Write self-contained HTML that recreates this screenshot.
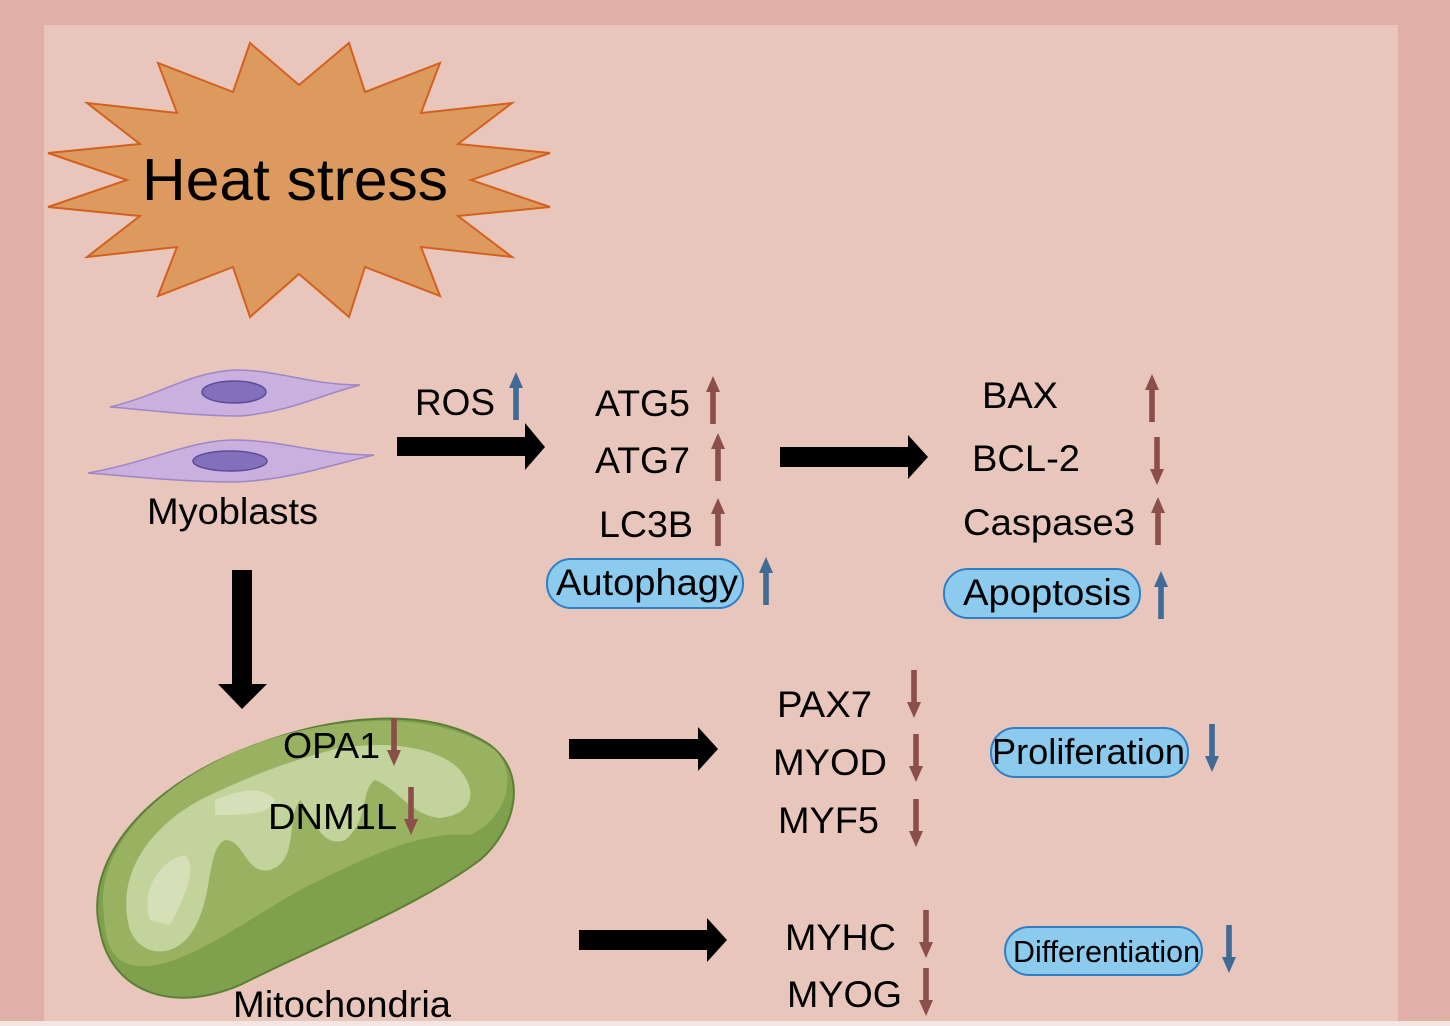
<!DOCTYPE html>
<html><head><meta charset="utf-8"><style>
html,body{margin:0;padding:0;background:#e0b0a6;}
svg{display:block;}
text{font-family:"Liberation Sans",Arial,sans-serif;fill:#000;}
</style></head><body>
<svg width="1450" height="1026" viewBox="0 0 1450 1026" xmlns="http://www.w3.org/2000/svg">
<defs>
<g id="up"><polygon points="-7,16 0,0 7,16"/><rect x="-2.8" y="14" width="5.6" height="34"/></g>
<g id="dn"><polygon points="-7,32 0,48 7,32"/><rect x="-2.8" y="0" width="5.6" height="34"/></g>
</defs>
<rect x="0" y="0" width="1450" height="1026" fill="#e0b0a6"/>
<rect x="44" y="25" width="1354" height="1001" fill="#e9c6bb"/>
<rect x="0" y="1021" width="1450" height="5" fill="#f3e6e2"/>
<polygon fill="#dd9a5f" stroke="#d4601e" stroke-width="2" points="250,43 299,85 349,43 365,92 440,63 421,113 512,103 458,144 550,153 471,180 550,207 458,216 512,257 421,247 440,296 365,267 349,317 299,274 250,317 233,267 158,296 177,247 87,257 140,216 48,207 127,180 48,153 140,144 87,103 177,113 158,63 233,92"/>
<text x="142" y="200" font-size="59" textLength="306" lengthAdjust="spacingAndGlyphs">Heat stress</text>
<path d="M110,407 C160,395 190,372 235,370 C280,370 310,385 360,385 C320,395 290,412 240,416 C190,416 150,410 110,407Z" fill="#c9b0df" stroke="#9f86c6" stroke-width="1.5"/>
<ellipse cx="234" cy="392" rx="32" ry="11" fill="#8370bd" stroke="#5d4b98" stroke-width="1.5"/>
<path d="M88,473 C150,462 190,440 235,440 C280,440 320,455 374,455 C330,465 290,480 235,482 C180,482 130,476 88,473Z" fill="#c9b0df" stroke="#9f86c6" stroke-width="1.5"/>
<ellipse cx="230" cy="461" rx="37" ry="10" fill="#8370bd" stroke="#5d4b98" stroke-width="1.5"/>
<text x="147" y="524" font-size="37" textLength="171" lengthAdjust="spacingAndGlyphs">Myoblasts</text>
<g>
<path d="M100,930 C85,870 130,800 230,755 C330,712 430,705 490,745 C530,775 515,830 480,860 C420,905 320,945 240,985 C170,1015 110,990 100,930Z" fill="#7fa04c" stroke="#5d7f35" stroke-width="2"/>
<path d="M104,915 C95,860 140,795 235,752 C335,710 440,712 495,750 C520,775 505,820 470,835 C420,830 360,860 300,890 C230,930 160,985 120,960 C108,950 105,935 104,915Z" fill="#98b262"/>
<path d="M130,930 C115,880 145,830 200,800 C240,780 290,760 340,748 C390,740 440,748 460,770 C480,795 470,815 440,818 C410,815 400,790 375,780 C360,790 370,820 345,840 C320,850 310,810 300,800 C285,820 300,860 270,870 C245,875 245,840 225,840 C205,850 215,900 190,935 C170,960 140,955 130,930Z" fill="#c3d39c"/>
<path d="M150,920 C140,890 160,860 185,855 C200,870 180,905 170,925Z M215,800 C240,790 260,785 275,800 C270,815 245,815 215,815Z" fill="#d5dfb8"/>
</g>
<text x="283" y="758" font-size="36" textLength="97" lengthAdjust="spacingAndGlyphs">OPA1</text>
<text x="268" y="829" font-size="36" textLength="129" lengthAdjust="spacingAndGlyphs">DNM1L</text>
<text x="233" y="1017" font-size="37" textLength="218" lengthAdjust="spacingAndGlyphs">Mitochondria</text>
<g fill="#000">
<polygon points="397,437 525,437 525,423 545,447 525,470 525,456 397,456"/>
<polygon points="780,447 908,447 908,435 928,457 908,479 908,467 780,467"/>
<polygon points="569,739 698,739 698,727 718,749 698,771 698,759 569,759"/>
<polygon points="579,930 707,930 707,918 727,940 707,962 707,950 579,950"/>
<polygon points="232,570 252,570 252,684 267,684 242,709 218,684 232,684"/>
</g>
<g font-size="37" lengthAdjust="spacingAndGlyphs">
<text x="415" y="415" textLength="80" lengthAdjust="spacingAndGlyphs">ROS</text>
<text x="595" y="416" textLength="95" lengthAdjust="spacingAndGlyphs">ATG5</text>
<text x="595" y="473" textLength="95" lengthAdjust="spacingAndGlyphs">ATG7</text>
<text x="599" y="537" textLength="94" lengthAdjust="spacingAndGlyphs">LC3B</text>
<text x="982" y="408" textLength="76" lengthAdjust="spacingAndGlyphs">BAX</text>
<text x="972" y="471" textLength="108" lengthAdjust="spacingAndGlyphs">BCL-2</text>
<text x="963" y="535" textLength="172" lengthAdjust="spacingAndGlyphs">Caspase3</text>
<text x="777" y="717" textLength="95" lengthAdjust="spacingAndGlyphs">PAX7</text>
<text x="773" y="775" textLength="114" lengthAdjust="spacingAndGlyphs">MYOD</text>
<text x="778" y="833" textLength="101" lengthAdjust="spacingAndGlyphs">MYF5</text>
<text x="785" y="950" textLength="111" lengthAdjust="spacingAndGlyphs">MYHC</text>
<text x="787" y="1007" textLength="115" lengthAdjust="spacingAndGlyphs">MYOG</text>
</g>
<g fill="#8ccbee" stroke="#2f7fc6" stroke-width="2">
<rect x="547" y="559" width="196" height="49" rx="24"/>
<rect x="944" y="569" width="196" height="49" rx="24"/>
<rect x="991" y="728" width="197" height="49" rx="24"/>
<rect x="1005" y="927" width="197" height="48" rx="24"/>
</g>
<text x="556" y="595" font-size="37" textLength="182" lengthAdjust="spacingAndGlyphs">Autophagy</text>
<text x="963" y="605" font-size="37" textLength="168" lengthAdjust="spacingAndGlyphs">Apoptosis</text>
<text x="992" y="764" font-size="36" textLength="193" lengthAdjust="spacingAndGlyphs">Proliferation</text>
<text x="1013" y="962" font-size="31" textLength="187" lengthAdjust="spacingAndGlyphs">Differentiation</text>
<g fill="#3f6b96">
<use href="#up" x="516" y="372"/>
<use href="#up" x="766" y="557"/>
<use href="#up" x="1161" y="571"/>
<use href="#dn" x="1212" y="724"/>
<use href="#dn" x="1229" y="925"/>
</g>
<g fill="#8b4f4a">
<use href="#up" x="713" y="376"/>
<use href="#up" x="718" y="433"/>
<use href="#up" x="718" y="498"/>
<use href="#up" x="1152" y="374"/>
<use href="#dn" x="1157" y="437"/>
<use href="#up" x="1158" y="497"/>
<use href="#dn" x="394" y="718"/>
<use href="#dn" x="411" y="787"/>
<use href="#dn" x="914" y="670"/>
<use href="#dn" x="916" y="734"/>
<use href="#dn" x="916" y="799"/>
<use href="#dn" x="926" y="910"/>
<use href="#dn" x="926" y="968"/>
</g>
</svg>
</body></html>
